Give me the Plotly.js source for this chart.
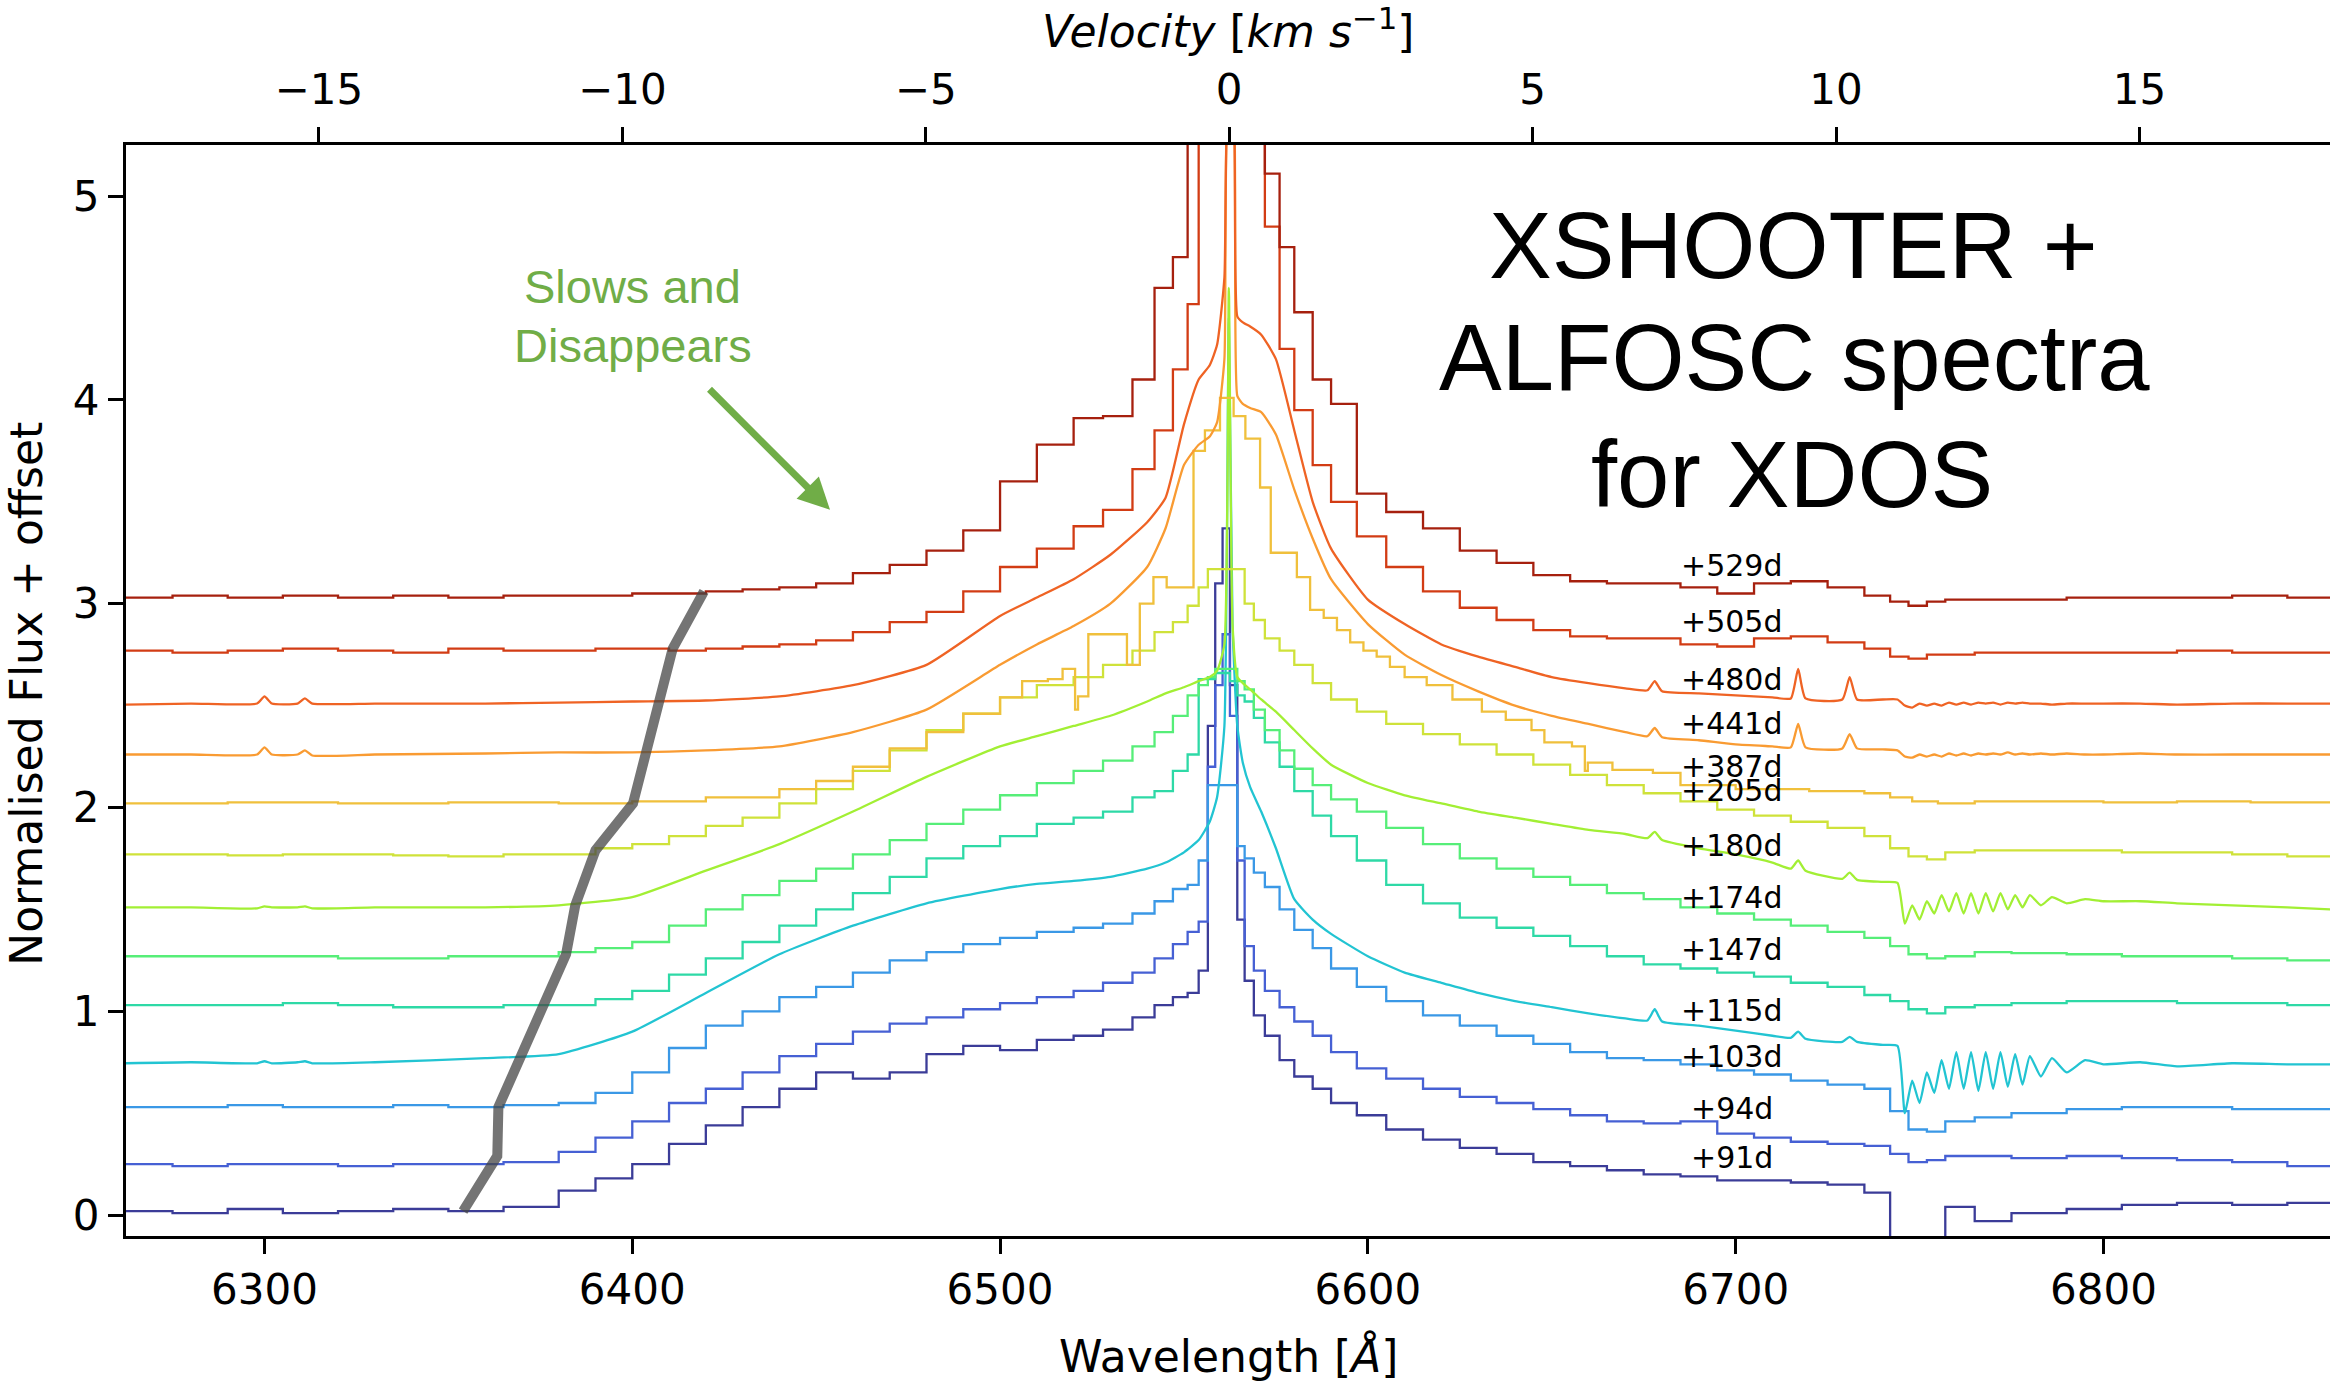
<!DOCTYPE html>
<html>
<head>
<meta charset="utf-8">
<script src="https://cdn.plot.ly/plotly-3.0.1.min.js"></script>
<style>
html,body{margin:0;padding:0;background:#ffffff;}
#chart{width:2330px;height:1386px;}
</style>
</head>
<body>
<div id="chart"></div>
<script>
// ---------------- DATA ----------------
// Wavelength grid (Angstrom) of the binned (step-drawn) ALFOSC spectra
const WS = [6262, 6275, 6290, 6305, 6320, 6335, 6350, 6365, 6380, 6390,
 6400, 6410, 6420, 6430, 6440, 6450, 6460, 6470, 6480, 6490,
 6500, 6510, 6520, 6528, 6536, 6542, 6547, 6551, 6554, 6556.5,
 6558.5, 6560.5, 6562.5, 6564.5, 6566.5, 6569, 6572, 6576, 6580, 6585,
 6590, 6597, 6605, 6615, 6625, 6635, 6645, 6655, 6665, 6675,
 6685, 6695, 6705, 6715, 6725, 6735, 6742, 6747, 6752, 6757,
 6765, 6775, 6790, 6805, 6820, 6835, 6850, 6862];

// Wavelength grid of the smooth XSHOOTER spectra
const WX = [6262, 6280, 6298, 6300, 6302, 6309, 6311, 6313, 6330, 6360,
 6380, 6400, 6420, 6440, 6460, 6480, 6500, 6510, 6520, 6530,
 6540, 6545, 6550, 6554, 6557, 6559, 6561, 6562.2, 6563.2, 6564.5,
 6566, 6568, 6571, 6575, 6580, 6585, 6590, 6600, 6610, 6620,
 6630, 6640, 6650, 6660, 6670, 6676, 6678, 6680, 6690, 6700,
 6710, 6715, 6717, 6719, 6729, 6731, 6733, 6740, 6744, 6746,
 6748, 6750, 6752, 6754, 6756, 6758, 6760, 6762, 6764, 6766,
 6768, 6770, 6772, 6774, 6776, 6778, 6780, 6783, 6786, 6790,
 6795, 6800, 6810, 6820, 6835, 6850, 6862];

// Wavelength grid of the +387d spectrum (own binning)
const W387 = [6262, 6290, 6320, 6350, 6380, 6400, 6420, 6440, 6450, 6460,
 6470, 6480, 6490, 6500, 6506, 6513, 6517, 6520.4, 6521.2, 6524,
 6534.5, 6538, 6541.7, 6545.3, 6552.6, 6555.7, 6559.8, 6563.5, 6566.7, 6570.7,
 6573.6, 6580.7, 6584.3, 6588, 6591.6, 6595.2, 6598.8, 6602.4, 6606, 6610,
 6616, 6623, 6631, 6637.5, 6644.5, 6648, 6655.5, 6659, 6659.8, 6666.5,
 6677.5, 6685, 6700, 6720, 6735, 6742, 6748, 6755, 6765, 6780,
 6800, 6820, 6840, 6862];

// Normalised flux + offset of each epoch
const F91 = [0.02, 0.01, 0.03, 0.01, 0.02, 0.03, 0.02, 0.04, 0.12, 0.18,
 0.25, 0.35, 0.44, 0.53, 0.62, 0.70, 0.67, 0.70, 0.79, 0.83,
 0.81, 0.86, 0.88, 0.91, 0.97, 1.03, 1.07, 1.09, 1.20, 2.40,
 3.10, 3.37, 2.60, 1.45, 1.15, 0.98, 0.88, 0.76, 0.68, 0.62,
 0.55, 0.49, 0.42, 0.37, 0.33, 0.30, 0.26, 0.24, 0.22, 0.20,
 0.19, 0.17, 0.17, 0.16, 0.15, 0.11, -0.25, -0.25, -0.25, 0.04,
 -0.03, 0.01, 0.03, 0.05, 0.06, 0.05, 0.06, 0.05];
const F94 = [0.25, 0.24, 0.25, 0.25, 0.24, 0.25, 0.25, 0.26, 0.31, 0.38,
 0.46, 0.55, 0.62, 0.70, 0.78, 0.84, 0.90, 0.94, 0.97, 1.01,
 1.04, 1.07, 1.10, 1.14, 1.19, 1.26, 1.33, 1.39, 1.44, 2.20,
 2.60, 2.85, 2.45, 1.74, 1.32, 1.20, 1.10, 1.02, 0.95, 0.88,
 0.80, 0.72, 0.67, 0.62, 0.58, 0.55, 0.52, 0.49, 0.46, 0.45,
 0.46, 0.40, 0.38, 0.36, 0.35, 0.34, 0.30, 0.26, 0.27, 0.29,
 0.29, 0.28, 0.29, 0.28, 0.27, 0.26, 0.24, 0.23];
const F103 = [0.53, 0.53, 0.54, 0.53, 0.53, 0.54, 0.53, 0.54, 0.55, 0.60,
 0.70, 0.82, 0.93, 1.00, 1.07, 1.12, 1.19, 1.25, 1.29, 1.33,
 1.36, 1.39, 1.41, 1.43, 1.48, 1.54, 1.60, 1.62, 1.74, 2.11,
 2.11, 2.11, 2.11, 1.81, 1.75, 1.68, 1.61, 1.50, 1.40, 1.31,
 1.21, 1.12, 1.05, 0.98, 0.93, 0.88, 0.84, 0.80, 0.77, 0.76,
 0.74, 0.71, 0.69, 0.66, 0.64, 0.62, 0.51, 0.42, 0.41, 0.46,
 0.48, 0.50, 0.52, 0.53, 0.53, 0.52, 0.52, 0.51];
const F115 = [0.745, 0.75, 0.745, 0.755, 0.745, 0.75, 0.755, 0.745, 0.75, 0.77,
 0.79, 0.90, 1.09, 1.28, 1.42, 1.53, 1.60, 1.625, 1.64, 1.66,
 1.70, 1.73, 1.78, 1.84, 1.93, 2.05, 2.40, 4.40, 2.90, 2.40,
 2.22, 2.10, 1.98, 1.80, 1.55, 1.45, 1.38, 1.27, 1.19, 1.14,
 1.09, 1.05, 1.02, 0.99, 0.965, 0.955, 1.01, 0.95, 0.93, 0.905,
 0.88, 0.87, 0.90, 0.865, 0.85, 0.875, 0.85, 0.835, 0.83, 0.50,
 0.66, 0.55, 0.70, 0.60, 0.76, 0.62, 0.80, 0.62, 0.80, 0.61,
 0.80, 0.62, 0.80, 0.63, 0.79, 0.64, 0.78, 0.68, 0.77, 0.70,
 0.76, 0.74, 0.75, 0.73, 0.745, 0.74, 0.74];
const F147 = [1.03, 1.03, 1.03, 1.04, 1.03, 1.02, 1.02, 1.03, 1.03, 1.06,
 1.10, 1.18, 1.26, 1.34, 1.42, 1.50, 1.58, 1.66, 1.75, 1.81,
 1.86, 1.92, 1.95, 1.98, 2.05, 2.08, 2.18, 2.26, 2.63, 2.63,
 2.66, 2.66, 2.62, 2.55, 2.52, 2.44, 2.32, 2.20, 2.08, 1.96,
 1.86, 1.74, 1.62, 1.53, 1.46, 1.41, 1.37, 1.32, 1.27, 1.23,
 1.21, 1.19, 1.17, 1.14, 1.12, 1.08, 1.05, 1.01, 0.99, 1.02,
 1.03, 1.04, 1.05, 1.05, 1.04, 1.04, 1.03, 1.03];
const F174 = [1.27, 1.27, 1.27, 1.27, 1.26, 1.26, 1.27, 1.27, 1.29, 1.31,
 1.34, 1.42, 1.50, 1.57, 1.64, 1.70, 1.77, 1.84, 1.92, 1.99,
 2.06, 2.12, 2.18, 2.23, 2.30, 2.37, 2.45, 2.55, 2.60, 2.64,
 2.68, 2.68, 2.68, 2.62, 2.58, 2.48, 2.38, 2.28, 2.19, 2.11,
 2.04, 1.98, 1.90, 1.82, 1.75, 1.70, 1.66, 1.62, 1.58, 1.55,
 1.51, 1.48, 1.45, 1.42, 1.39, 1.36, 1.32, 1.28, 1.26, 1.27,
 1.29, 1.285, 1.28, 1.27, 1.27, 1.26, 1.25, 1.245];
const F180 = [1.51, 1.51, 1.505, 1.515, 1.51, 1.51, 1.515, 1.505, 1.51, 1.51,
 1.52, 1.56, 1.69, 1.82, 1.98, 2.15, 2.30, 2.35, 2.40, 2.45,
 2.52, 2.56, 2.59, 2.62, 2.64, 2.67, 2.80, 4.55, 2.90, 2.64,
 2.61, 2.58, 2.53, 2.47, 2.38, 2.29, 2.21, 2.12, 2.06, 2.02,
 1.98, 1.95, 1.92, 1.89, 1.87, 1.85, 1.88, 1.84, 1.80, 1.77,
 1.73, 1.70, 1.74, 1.69, 1.65, 1.68, 1.645, 1.635, 1.63, 1.43,
 1.52, 1.45, 1.54, 1.48, 1.57, 1.49, 1.58, 1.48, 1.58, 1.48,
 1.58, 1.49, 1.58, 1.50, 1.57, 1.51, 1.57, 1.52, 1.56, 1.53,
 1.55, 1.54, 1.54, 1.53, 1.52, 1.51, 1.50];
const F205 = [1.77, 1.77, 1.765, 1.77, 1.77, 1.765, 1.76, 1.77, 1.77, 1.80,
 1.82, 1.86, 1.91, 1.95, 2.02, 2.09, 2.18, 2.28, 2.38, 2.46,
 2.54, 2.60, 2.64, 2.70, 2.77, 2.86, 2.91, 2.99, 3.08, 3.17,
 3.17, 3.17, 3.17, 3.17, 3.00, 2.92, 2.83, 2.77, 2.70, 2.61,
 2.53, 2.47, 2.41, 2.36, 2.31, 2.26, 2.21, 2.16, 2.11, 2.07,
 2.03, 1.99, 1.96, 1.93, 1.90, 1.86, 1.80, 1.76, 1.745, 1.78,
 1.79, 1.79, 1.79, 1.78, 1.78, 1.77, 1.76, 1.75];
const F387 = [2.02, 2.025, 2.02, 2.025, 2.02, 2.03, 2.05, 2.09, 2.13, 2.20,
 2.29, 2.37, 2.46, 2.54, 2.62, 2.63, 2.68, 2.48, 2.545, 2.85,
 2.70, 3.00, 3.13, 3.08, 3.75, 3.85, 4.01, 3.92, 3.81, 3.57,
 3.25, 3.13, 2.97, 2.93, 2.87, 2.81, 2.77, 2.74, 2.69, 2.64,
 2.60, 2.53, 2.47, 2.43, 2.38, 2.32, 2.30, 2.18, 2.22, 2.185,
 2.17, 2.11, 2.09, 2.08, 2.07, 2.05, 2.03, 2.02, 2.03, 2.03,
 2.025, 2.03, 2.025, 2.03];
const F441 = [2.26, 2.26, 2.26, 2.295, 2.26, 2.26, 2.28, 2.255, 2.26, 2.265,
 2.27, 2.27, 2.28, 2.30, 2.37, 2.48, 2.70, 2.80, 2.89, 3.00,
 3.18, 3.37, 3.68, 3.78, 3.82, 3.89, 4.20, 5.5, 5.5, 4.02,
 3.98, 3.96, 3.94, 3.83, 3.56, 3.32, 3.12, 2.90, 2.75, 2.65,
 2.57, 2.50, 2.45, 2.41, 2.37, 2.35, 2.39, 2.345, 2.33, 2.31,
 2.30, 2.295, 2.41, 2.295, 2.29, 2.36, 2.29, 2.285, 2.28, 2.25,
 2.245, 2.26, 2.25, 2.26, 2.25, 2.265, 2.255, 2.265, 2.255, 2.265,
 2.26, 2.265, 2.26, 2.27, 2.26, 2.265, 2.26, 2.265, 2.26, 2.265,
 2.26, 2.26, 2.265, 2.26, 2.26, 2.26, 2.26];
const F480 = [2.505, 2.51, 2.51, 2.545, 2.51, 2.51, 2.535, 2.51, 2.51, 2.51,
 2.515, 2.52, 2.525, 2.545, 2.60, 2.70, 2.94, 3.03, 3.12, 3.24,
 3.40, 3.52, 3.88, 4.10, 4.17, 4.27, 4.60, 5.5, 5.5, 4.41,
 4.38, 4.36, 4.32, 4.20, 3.85, 3.50, 3.27, 3.02, 2.90, 2.80,
 2.74, 2.69, 2.64, 2.61, 2.585, 2.575, 2.62, 2.57, 2.56, 2.55,
 2.54, 2.535, 2.68, 2.535, 2.53, 2.64, 2.53, 2.53, 2.53, 2.50,
 2.49, 2.51, 2.50, 2.51, 2.50, 2.515, 2.505, 2.515, 2.505, 2.515,
 2.51, 2.515, 2.505, 2.515, 2.51, 2.515, 2.51, 2.51, 2.505, 2.51,
 2.51, 2.51, 2.51, 2.505, 2.51, 2.51, 2.51];
const F505 = [2.77, 2.76, 2.77, 2.78, 2.77, 2.76, 2.78, 2.77, 2.77, 2.78,
 2.78, 2.77, 2.78, 2.79, 2.80, 2.82, 2.86, 2.91, 2.96, 3.06,
 3.18, 3.27, 3.38, 3.46, 3.66, 3.85, 4.15, 4.47, 5.5, 5.5,
 5.5, 5.5, 5.5, 5.5, 5.5, 5.5, 4.85, 4.25, 3.95, 3.68,
 3.50, 3.33, 3.18, 3.06, 2.98, 2.92, 2.87, 2.84, 2.83, 2.83,
 2.80, 2.79, 2.83, 2.84, 2.81, 2.78, 2.74, 2.73, 2.75, 2.75,
 2.76, 2.76, 2.76, 2.76, 2.77, 2.76, 2.76, 2.77];
const F529 = [3.03, 3.04, 3.03, 3.04, 3.03, 3.04, 3.03, 3.04, 3.04, 3.04,
 3.05, 3.05, 3.06, 3.07, 3.08, 3.10, 3.15, 3.19, 3.26, 3.36,
 3.60, 3.78, 3.91, 3.92, 4.10, 4.55, 4.70, 5.5, 5.5, 5.5,
 5.5, 5.5, 5.5, 5.5, 5.5, 5.5, 5.11, 4.75, 4.43, 4.10,
 3.98, 3.54, 3.45, 3.37, 3.26, 3.20, 3.14, 3.11, 3.10, 3.10,
 3.08, 3.05, 3.10, 3.11, 3.08, 3.04, 3.01, 2.99, 3.01, 3.02,
 3.02, 3.02, 3.03, 3.03, 3.03, 3.04, 3.03, 3.03];

// Epoch labels
const days = ['+91d', '+94d', '+103d', '+115d', '+147d', '+174d', '+180d',
              '+205d', '+387d', '+441d', '+480d', '+505d', '+529d'];

// Grey "slows and disappears" track (wavelength, flux)
const trackW = [6354, 6363.3, 6363.6, 6382, 6384.5, 6390, 6400.2, 6411, 6419.5];
const trackF = [0.02, 0.29, 0.53, 1.28, 1.52, 1.79, 2.02, 2.78, 3.06];

// Axis ticks
const waveTicks = [6300, 6400, 6500, 6600, 6700, 6800];
const velTicks = [-15, -10, -5, 0, 5, 10, 15];
const fluxTicks = [0, 1, 2, 3, 4, 5];

// ---------------- STYLE / LAYOUT ----------------
const series = [
  {x: WS,   y: F91,  step: true},
  {x: WS,   y: F94,  step: true},
  {x: WS,   y: F103, step: true},
  {x: WX,   y: F115, step: false},
  {x: WS,   y: F147, step: true},
  {x: WS,   y: F174, step: true},
  {x: WX,   y: F180, step: false},
  {x: WS,   y: F205, step: true},
  {x: W387, y: F387, step: true},
  {x: WX,   y: F441, step: false},
  {x: WX,   y: F480, step: false},
  {x: WS,   y: F505, step: true},
  {x: WS,   y: F529, step: true}
];
const colors = ['#3b3c98', '#4660d4', '#3a98e6', '#22c4d2', '#2ed9a6', '#56ee78', '#a2ef34',
                '#cfe23a', '#f0c03c', '#f99b32', '#ef6324', '#d23c14', '#a6200e'];
const labelY = [0.284, 0.525, 0.78, 1.006, 1.305, 1.56, 1.815, 2.085, 2.20, 2.41, 2.63, 2.915, 3.185];
const labelX = 6699;

const X_RANGE = [6262.35, 6861.6];
const Y_RANGE = [-0.1025, 5.2506];
const LAMBDA0 = 6562.3, ANG_PER_UNIT = 16.5;   // top velocity axis mapping
const V_RANGE = X_RANGE.map(w => (w - LAMBDA0) / ANG_PER_UNIT);

const TICK_FONT = {family: 'DejaVu Sans, sans-serif', size: 42, color: '#000'};
const SANS = 'Liberation Sans, Arial, sans-serif';
const GREEN = '#70ad47';

const traces = series.map((s, i) => ({
  type: 'scatter', mode: 'lines', x: s.x, y: s.y,
  line: s.step ? {color: colors[i], width: 2.3, shape: 'hv'}
               : {color: colors[i], width: 2.3, shape: 'spline', smoothing: 0.5},
  hoverinfo: 'skip', showlegend: false
}));
traces.push({
  type: 'scatter', mode: 'lines', x: trackW, y: trackF,
  line: {color: 'rgba(70,70,70,0.75)', width: 10},
  hoverinfo: 'skip', showlegend: false
});
// anchor trace for the top velocity axis
traces.push({type: 'scatter', mode: 'lines', x: V_RANGE, y: [null, null], xaxis: 'x2', yaxis: 'y',
             hoverinfo: 'skip', showlegend: false});

const axisCommon = {
  ticks: 'outside', ticklen: 15, tickwidth: 3, tickcolor: '#000',
  showline: true, linewidth: 3, linecolor: '#000',
  showgrid: false, zeroline: false, tickfont: TICK_FONT, mirror: false
};

// pixel -> paper helpers for annotation placement (plot area 126..2330 x 145..1236.5)
const PX = X => (X - 126) / 2204;
const PY = Y => (1236.5 - Y) / 1091.5;

const annotations = [
  {xref: 'paper', yref: 'paper', x: 0.5, y: PY(1357), text: 'Wavelength [<i>Å</i>]',
   showarrow: false, xanchor: 'center', yanchor: 'middle',
   font: {family: 'DejaVu Sans, sans-serif', size: 44, color: '#000'}},
  {xref: 'paper', yref: 'paper', x: 0.5, y: PY(28), text: '<i>Velocity</i> [<i>km s</i><sup>−1</sup>]',
   showarrow: false, xanchor: 'center', yanchor: 'middle',
   font: {family: 'DejaVu Sans, sans-serif', size: 44, color: '#000'}},
  {xref: 'paper', yref: 'paper', x: PX(27), y: PY(694), text: 'Normalised Flux + offset',
   textangle: -90, showarrow: false, xanchor: 'center', yanchor: 'middle',
   font: {family: 'DejaVu Sans, sans-serif', size: 44, color: '#000'}},
  {xref: 'paper', yref: 'paper', x: PX(1793), y: PY(246), text: 'XSHOOTER +',
   showarrow: false, xanchor: 'center', yanchor: 'middle', font: {family: SANS, size: 94, color: '#000'}},
  {xref: 'paper', yref: 'paper', x: PX(1794), y: PY(358), text: 'ALFOSC spectra',
   showarrow: false, xanchor: 'center', yanchor: 'middle', font: {family: SANS, size: 94, color: '#000'}},
  {xref: 'paper', yref: 'paper', x: PX(1792), y: PY(475), text: 'for XDOS',
   showarrow: false, xanchor: 'center', yanchor: 'middle', font: {family: SANS, size: 94, color: '#000'}},
  {xref: 'paper', yref: 'paper', x: PX(632), y: PY(287), text: 'Slows and',
   showarrow: false, xanchor: 'center', yanchor: 'middle', font: {family: SANS, size: 47, color: GREEN}},
  {xref: 'paper', yref: 'paper', x: PX(633), y: PY(346), text: 'Disappears',
   showarrow: false, xanchor: 'center', yanchor: 'middle', font: {family: SANS, size: 47, color: GREEN}},
  {xref: 'paper', yref: 'paper', x: PX(830), y: PY(510), ax: -122, ay: -122, text: '',
   showarrow: true, arrowhead: 2, arrowsize: 0.9, arrowwidth: 7, arrowcolor: GREEN, standoff: 0}
];
days.forEach((d, i) => annotations.push({
  xref: 'x', yref: 'y', x: labelX, y: labelY[i], text: d, showarrow: false,
  xanchor: 'center', yanchor: 'middle',
  font: {family: 'DejaVu Sans, sans-serif', size: 30, color: '#000'}
}));

const layout = {
  width: 2330, height: 1386,
  margin: {l: 126, r: 0, t: 145, b: 150, pad: 0},
  paper_bgcolor: '#ffffff', plot_bgcolor: '#ffffff',
  showlegend: false,
  xaxis: Object.assign({}, axisCommon, {range: X_RANGE, tickmode: 'array', tickvals: waveTicks}),
  xaxis2: Object.assign({}, axisCommon, {range: V_RANGE, overlaying: 'x', side: 'top', anchor: 'y',
                                         tickmode: 'array', tickvals: velTicks, ticklabelstandoff: 6}),
  yaxis: Object.assign({}, axisCommon, {range: Y_RANGE, tickmode: 'array', tickvals: fluxTicks}),
  annotations: annotations
};

Plotly.newPlot('chart', traces, layout, {staticPlot: true, displayModeBar: false});
</script>
</body>
</html>
